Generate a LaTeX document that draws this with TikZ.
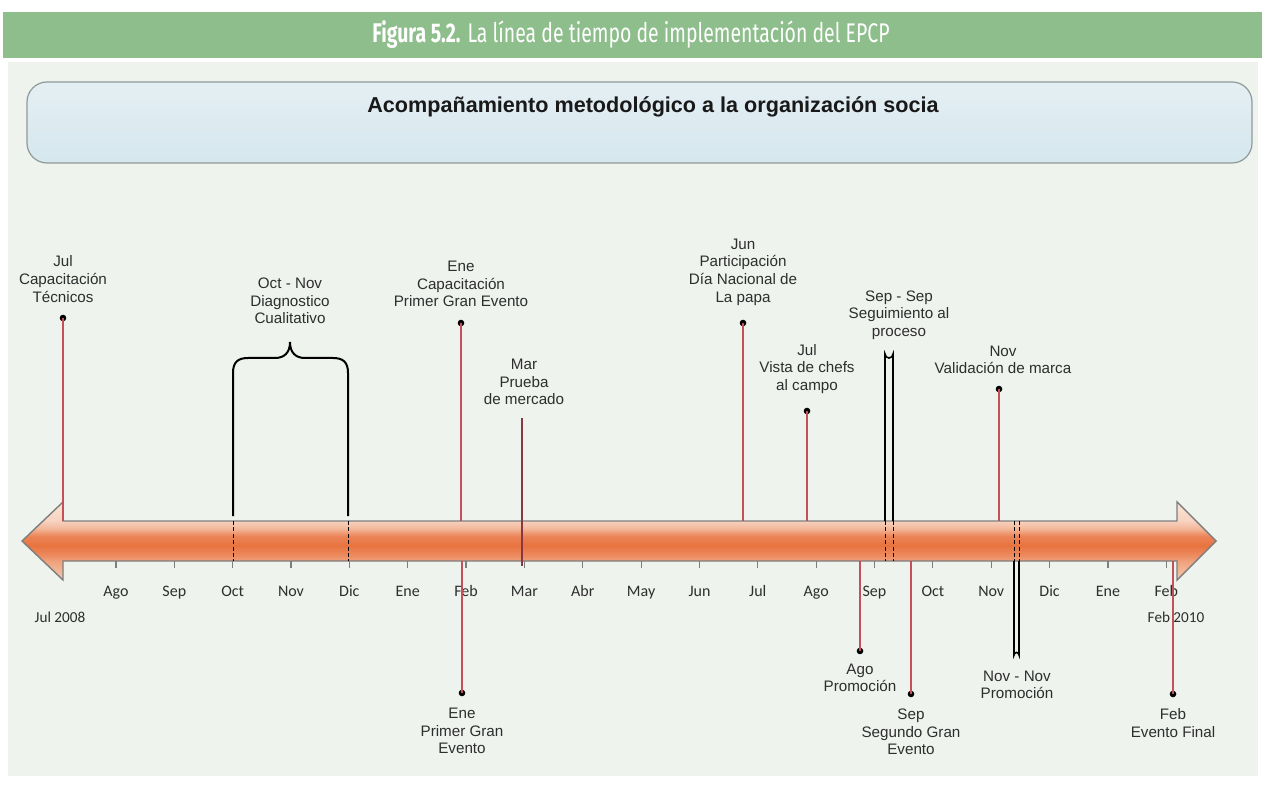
\documentclass[tikz,border=0pt]{standalone}
\usepackage{fontspec}
\setmainfont{Liberation Sans}
\newfontfamily\calfont{Carlito}
\newfontfamily\condfont[FakeStretch=0.72]{Fira Sans}
\definecolor{bandgreen}{HTML}{8DBE8B}
\definecolor{panelbg}{HTML}{EEF3EE}
\definecolor{boxtop}{HTML}{E4EFF3}
\definecolor{boxbot}{HTML}{D6E7EE}
\definecolor{boxline}{HTML}{8E9A9A}
\definecolor{evred}{HTML}{C4505A}
\definecolor{txtgray}{HTML}{2E2E2E}
\definecolor{arrline}{HTML}{7E7E7E}
\definecolor{atop}{HTML}{FAE4D7}
\definecolor{abot}{HTML}{F5C9B0}
\definecolor{cA}{HTML}{F7D3C0}
\definecolor{cB}{HTML}{F3B799}
\definecolor{cC}{HTML}{EC8356}
\definecolor{cD}{HTML}{E8743F}
\definecolor{cE}{HTML}{EC8A5E}
\definecolor{cF}{HTML}{EFA27C}
\pgfdeclareverticalshading{arrowsh}{100bp}{color(0bp)=(abot); color(25bp)=(abot); color(37bp)=(cF); color(41bp)=(cE); color(47bp)=(cD); color(53bp)=(cC); color(58bp)=(cB); color(63bp)=(cA); color(75bp)=(atop); color(100bp)=(atop)}
\usetikzlibrary{calc}
\begin{document}
\begin{tikzpicture}[x=0.5pt,y=-0.5pt,
  evline/.style={draw=evred, line width=0.6pt},
  evdot/.style={circle, fill=black, inner sep=0pt, minimum size=3.3pt},
  evlabel/.style={align=center, font=\fontsize{7.6}{8.8}\selectfont, text=txtgray, inner sep=0pt},
  monthlab/.style={font=\calfont\fontsize{8}{9}\selectfont, text=txtgray, inner sep=0pt, anchor=base},
  monthtick/.style={draw=arrline, line width=0.6pt},
  bracestyle/.style={draw=black, line width=1pt},
  capsule/.style={draw=black, line width=0.8pt},
  dashline/.style={draw=black, line width=0.5pt, dash pattern=on 2pt off 1.2pt}
]
\useasboundingbox (0,0) rectangle (1262,801);
\fill[white] (0,0) rectangle (1262,801);
% panel background
\fill[panelbg] (8,62) rectangle (1258,776);
% green header band
\fill[bandgreen] (3,12) rectangle (1262,58);
\node[text=white, font=\condfont\fontsize{13.5}{15}\selectfont, inner sep=0pt] (header) at (631,35)
  {\textbf{Figura 5.2.} La línea de tiempo de implementación del EPCP};
% banner box
\path[draw=boxline, line width=0.6pt, top color=boxtop, bottom color=boxbot, rounded corners=10pt]
  (27,82) rectangle (1252,163);
\node[font=\bfseries\fontsize{10.8}{12}\selectfont, text=black!90, inner sep=0pt] (bannertitle) at (653,107)
  {Acompañamiento metodológico a la organización socia};

% big double arrow
\path[shading=arrowsh, draw=arrline, line width=0.7pt, line join=miter]
  (22,541) -- (63,502) -- (63,521) -- (1177,521) -- (1177,502) -- (1216,541)
  -- (1177,580) -- (1177,561) -- (63,561) -- (63,580) -- cycle;

% month ticks and labels
\foreach \m [count=\i] in {Ago,Sep,Oct,Nov,Dic,Ene,Feb,Mar,Abr,May,Jun,Jul,Ago,Sep,Oct,Nov,Dic,Ene,Feb}{
  \coordinate (t\i a) at ({57.6+58.35*\i},561);
  \coordinate (t\i b) at ({57.6+58.35*\i},568);
  \draw[monthtick] (t\i a) -- (t\i b);
  \node[monthlab] (m\i) at ({57.6+58.35*\i},596) {\m};
}
\node[font=\calfont\fontsize{7.6}{9}\selectfont, text=txtgray, inner sep=0pt, anchor=base] (jul2008) at (60,622) {Jul 2008};
\node[font=\calfont\fontsize{7.6}{9}\selectfont, text=txtgray, inner sep=0pt, anchor=base] (feb2010) at (1176,622) {Feb 2010};

% ---- top events ----
% Jul Capacitacion Tecnicos
\coordinate (b1) at (63,521);
\node[evdot] (d1) at (63,318) {};
\draw[evline] (b1) -- (d1.center);
\node[evlabel] (l1) at (63,279) {Jul\\Capacitación\\Técnicos};

% Oct - Nov brace
\coordinate (br1) at (233,516);
\coordinate (br2) at (348,516);
\coordinate (brtip) at (290,342);
\draw[bracestyle] (br1) -- (233,373) .. controls (233,362) and (238,358) .. (248,358)
  -- (275,358) .. controls (284,358) and (290,353) .. (brtip)
  .. controls (290,353) and (296,358) .. (305,358) -- (333,358)
  .. controls (343,358) and (348,362) .. (348,373) -- (br2);
\coordinate (br1a) at (233,521); \coordinate (br1b) at (233,561);
\coordinate (br2a) at (348,521); \coordinate (br2b) at (348,561);
\draw[dashline] (br1a) -- (br1b);
\draw[dashline] (br2a) -- (br2b);
\node[evlabel] (l2) at (290,301) {Oct - Nov\\Diagnostico\\Cualitativo};

% Ene Capacitacion Primer Gran Evento
\coordinate (b3) at (461,521);
\node[evdot] (d3) at (461,323) {};
\draw[evline] (b3) -- (d3.center);
\node[evlabel] (l3) at (461,284) {Ene\\Capacitación\\Primer Gran Evento};

% Mar Prueba de mercado
\coordinate (b4top) at (522,418);
\coordinate (b4bot) at (522,566);
\draw[draw=evred!70!black, line width=0.6pt] (b4top) -- (b4bot);
\node[evlabel] (l4) at (524,382) {Mar\\Prueba\\de mercado};

% Jun Participacion
\coordinate (b5) at (743,521);
\node[evdot] (d5) at (743,323) {};
\draw[evline] (b5) -- (d5.center);
\node[evlabel] (l5) at (743,272) {Jun\\Participación\\Día Nacional de\\La papa};

% Jul Vista de chefs
\coordinate (b6) at (807,521);
\node[evdot] (d6) at (807,411) {};
\draw[evline] (b6) -- (d6.center);
\node[evlabel] (l6) at (807,369) {Jul\\Vista de chefs\\al campo};

% Sep - Sep Seguimiento (capsule)
\coordinate (c7a) at (885,521);
\coordinate (c7b) at (893,521);
\draw[capsule] (c7a) -- (885,354) arc[start angle=180, end angle=0, radius=4] -- (c7b);
\coordinate (c7c) at (885,561); \coordinate (c7d) at (893,561);
\draw[dashline] (c7a) -- (c7c);
\draw[dashline] (c7b) -- (c7d);
\node[evlabel] (l7) at (899,315) {Sep - Sep\\Seguimiento al\\proceso};

% Nov Validacion de marca
\coordinate (b8) at (999,521);
\node[evdot] (d8) at (999,389) {};
\draw[evline] (b8) -- (d8.center);
\node[evlabel] (l8) at (1003,360) {Nov\\Validación de marca};

% ---- bottom events ----
% Ene Primer Gran Evento
\coordinate (b9) at (462,561);
\node[evdot] (d9) at (462,693) {};
\draw[evline] (b9) -- (d9.center);
\node[evlabel] (l9) at (462,731) {Ene\\Primer Gran\\Evento};

% Ago Promocion
\coordinate (b10) at (860,561);
\node[evdot] (d10) at (860,651) {};
\draw[evline] (b10) -- (d10.center);
\node[evlabel] (l10) at (860,678) {Ago\\Promoción};

% Sep Segundo Gran Evento
\coordinate (b11) at (911,561);
\node[evdot] (d11) at (911,694) {};
\draw[evline] (b11) -- (d11.center);
\node[evlabel] (l11) at (911,732) {Sep\\Segundo Gran\\Evento};

% Nov - Nov Promocion (capsule)
\coordinate (c12a) at (1014,561);
\coordinate (c12b) at (1019,561);
\draw[capsule] (c12a) -- (1014,655) arc[start angle=180, end angle=360, radius=2.5] -- (c12b);
\coordinate (c12c) at (1014,521); \coordinate (c12d) at (1019,521);
\draw[dashline] (c12c) -- (c12a);
\draw[dashline] (c12d) -- (c12b);
\node[evlabel] (l12) at (1017,685) {Nov - Nov\\Promoción};

% Feb Evento Final
\coordinate (b13) at (1173,561);
\node[evdot] (d13) at (1173,694) {};
\draw[evline] (b13) -- (d13.center);
\node[evlabel] (l13) at (1173,723) {Feb\\Evento Final};
\end{tikzpicture}
\end{document}
